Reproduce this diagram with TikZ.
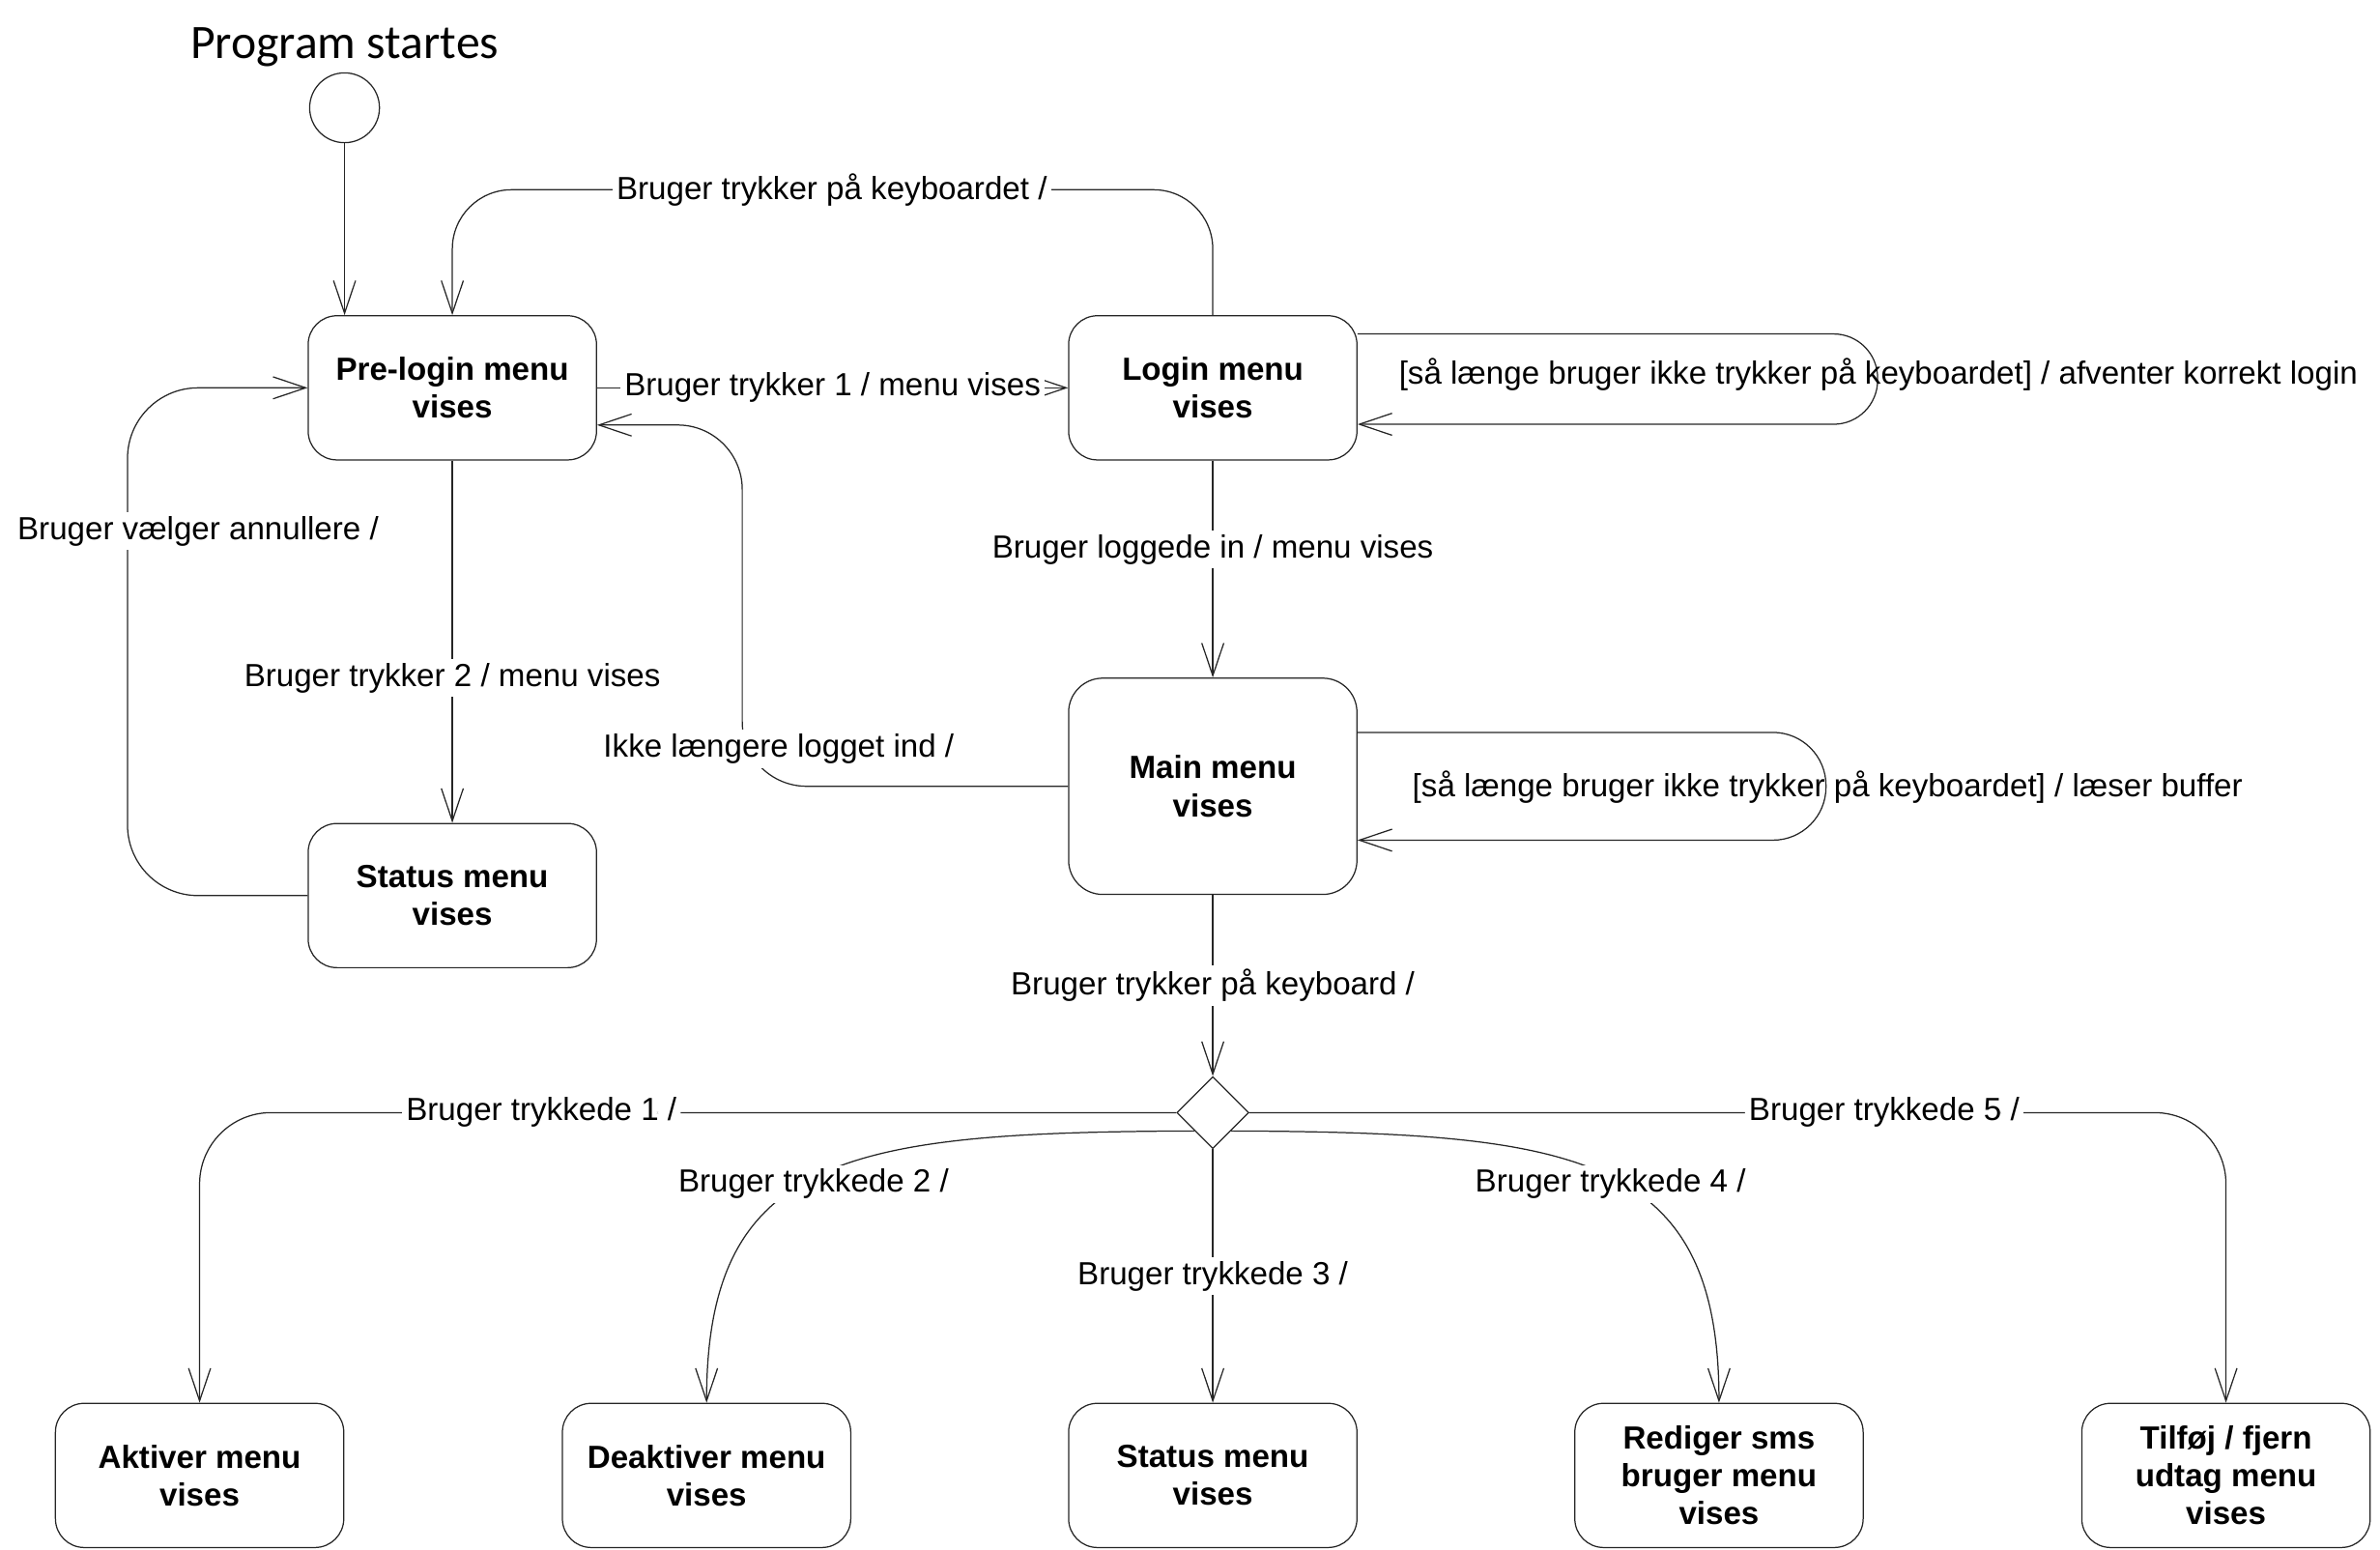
\documentclass[tikz,border=0pt]{standalone}
\usepackage{fontspec}
\setmainfont{Liberation Sans}
\newfontfamily\titlefont{Carlito}
\usetikzlibrary{arrows.meta,shapes.geometric}

\tikzset{
  menubox/.style={draw=black!85, line width=0.45pt, rounded corners=0.38cm,
    minimum width=3.8cm, minimum height=1.9cm, align=center, inner sep=2pt,
    font=\fontsize{12}{14.2}\selectfont\bfseries},
  lbl/.style={fill=white, inner sep=1.5pt, font=\fontsize{12}{14.4}\selectfont},
  looplbl/.style={inner sep=1.5pt, font=\fontsize{12}{14.4}\selectfont},
  trans/.style={draw=black!85, line width=0.45pt,
    -{Straight Barb[length=4.3mm,width=2.9mm]}},
}

\begin{document}
\begin{tikzpicture}[x=0.02cm, y=-0.02cm]
\useasboundingbox (0,0) rectangle (1568,1021);

%start
\node[anchor=base, font=\titlefont\fontsize{18}{21}\selectfont] (title) at (227,38.6) {Program startes};
\node[circle, draw=black!85, line width=0.45pt, minimum size=0.92cm, inner sep=0pt] (start) at (227,71) {};

%states in the upper part
\node[menubox] (prelogin) at (298,255.5) {Pre-login menu\\vises};
\node[menubox] (login) at (799,255.5) {Login menu\\vises};
\node[menubox, minimum height=2.85cm, rounded corners=0.45cm] (mainmenu) at (799,518) {Main menu\\vises};
\node[menubox] (status) at (298,590) {Status menu\\vises};

%choice after main menu
\node[diamond, draw=black!85, line width=0.45pt, minimum width=0.95cm, minimum height=0.95cm, inner sep=0pt] (choice) at (799,733) {};

%menus in the bottom row
\node[menubox] (aktiver) at (131.5,972) {Aktiver menu\\vises};
\node[menubox] (deaktiver) at (465.5,972) {Deaktiver menu\\vises};
\node[menubox] (statusb) at (799,972) {Status menu\\vises};
\node[menubox] (rediger) at (1132.5,972) {Rediger sms\\bruger menu\\vises};
\node[menubox] (tilfoej) at (1466.5,972) {Tilføj / fjern\\udtag menu\\vises};

\draw[trans] (start.south) -- (start.south |- prelogin.north);

%pre-login and login
\draw[trans] (prelogin.east) -- node[lbl]{Bruger trykker 1 / menu vises} (login.west);
\coordinate (kbtop) at (548,125);
\draw[trans, rounded corners=0.78cm] (login.north) |- (kbtop) -| (prelogin.north);
\node[lbl] (kblbl) at (kbtop) {Bruger trykker på keyboardet /};
\draw[trans, rounded corners=0.58cm] (login.east |- 0,220) -- (1237,220) -- (1237,279.5) -- (login.east |- 0,279.5);
\node[looplbl] (loginloop) at (1237.5,247) {[så længe bruger ikke trykker på keyboardet] / afventer korrekt login};

%pre-login and status
\draw[trans] (prelogin.south) -- node[lbl, pos=0.6]{Bruger trykker 2 / menu vises} (status.north);
\draw[trans, rounded corners=0.93cm] (status.west) -| (84,420) |- (prelogin.west);
\node[lbl] (annlbl) at (130.5,350) {Bruger vælger annullere /};

%main menu
\draw[trans] (login.south) -- node[lbl, pos=0.41]{Bruger loggede in / menu vises} (mainmenu.north);
\draw[trans, rounded corners=0.85cm] (mainmenu.west) -| (489,400) |- (prelogin.east |- 0,280);
\node[lbl] (ikkelbl) at (513,493.4) {Ikke længere logget ind /};
\draw[trans, rounded corners=0.7cm] (mainmenu.east |- 0,482.5) -- (1203,482.5) -- (1203,553.5) -- (mainmenu.east |- 0,553.5);
\node[looplbl] (mainloop) at (1204,518.5) {[så længe bruger ikke trykker på keyboardet] / læser buffer};
\draw[trans] (mainmenu.south) -- node[lbl]{Bruger trykker på keyboard /} (choice.north);

%choice to the bottom menus
\draw[trans, rounded corners=0.94cm] (choice.west) -| node[lbl, pos=0.325]{Bruger trykkede 1 /} (aktiver.north);
\draw[trans] (choice.south west) .. controls (560,746) and (465.5,760) .. (deaktiver.north);
\node[lbl] (lbl2) at (536,780) {Bruger trykkede 2 /};
\draw[trans] (choice.south) -- node[lbl]{Bruger trykkede 3 /} (statusb.north);
\draw[trans] (choice.south east) .. controls (1038,746) and (1132.5,760) .. (rediger.north);
\node[lbl] (lbl4) at (1061,780) {Bruger trykkede 4 /};
\draw[trans, rounded corners=0.94cm] (choice.east) -| node[lbl, pos=0.325]{Bruger trykkede 5 /} (tilfoej.north);

\end{tikzpicture}
\end{document}
